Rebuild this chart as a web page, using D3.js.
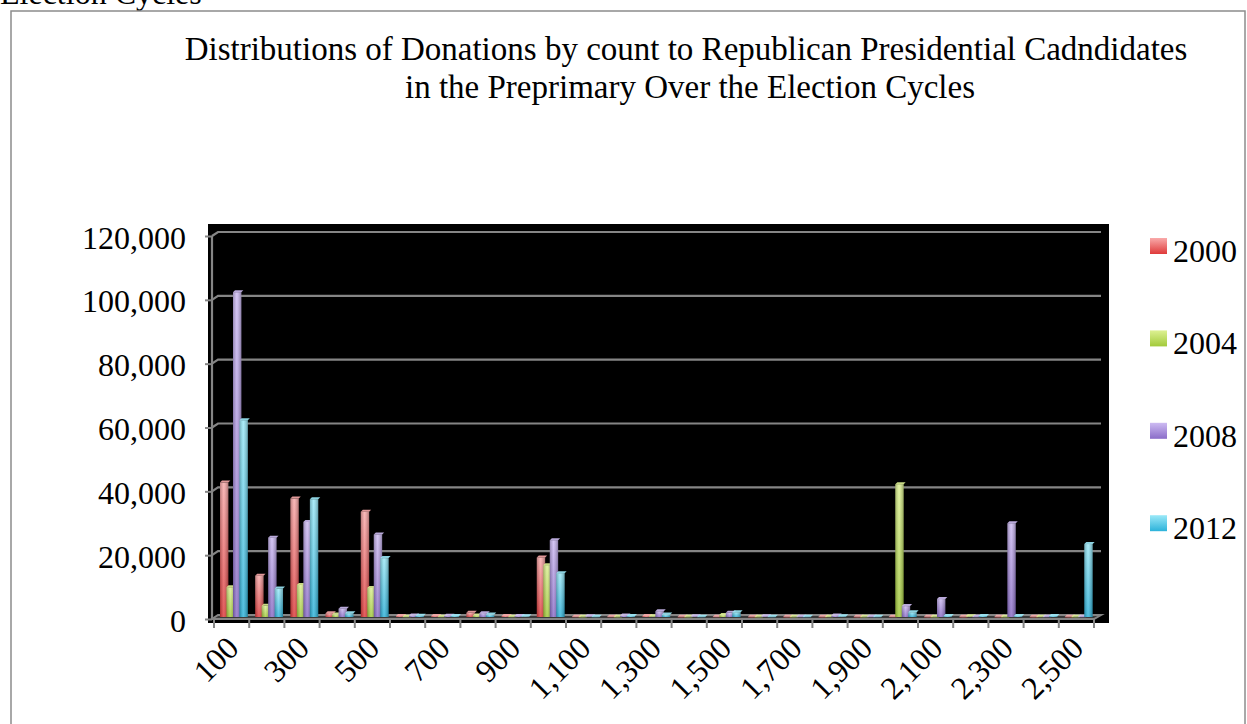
<!DOCTYPE html>
<html>
<head>
<meta charset="utf-8">
<script src="https://cdn.jsdelivr.net/npm/d3@7"></script>
<style>
  html, body { margin: 0; padding: 0; background: #fff; overflow: hidden; }
  svg { display: block; }
  text { font-family: "Liberation Serif", "Times New Roman", serif; fill: #000; }
</style>
</head>
<body>
<svg id="chart" width="1247" height="724"></svg>
<script>
// Donation amount buckets (dollars)
const categories = [100, 200, 300, 400, 500, 600, 700, 800, 900, 1000, 1100, 1200, 1300,
                    1400, 1500, 1600, 1700, 1800, 1900, 2000, 2100, 2200, 2300, 2400, 2500];
const seriesNames = ["2000", "2004", "2008", "2012"];

// Number of donations per bucket, one array per election cycle
const values2000 = [42000, 12900, 37000, 1200, 32900, 300, 300, 1300, 300, 18600, 100, 100, 300,
                    50, 100, 50, 50, 50, 50, 100, 50, 50, 50, 50, 50];
const values2004 = [9300, 3500, 10000, 800, 9100, 100, 100, 500, 100, 16200, 50, 50, 200,
                    50, 600, 50, 50, 100, 50, 41500, 50, 200, 50, 100, 50];
const values2008 = [101500, 24800, 29700, 2600, 25800, 500, 400, 1200, 300, 24000, 200, 500, 1800,
                    200, 1300, 200, 100, 500, 100, 3400, 5600, 100, 29300, 100, 100];
const values2012 = [61500, 8900, 36800, 1200, 18400, 400, 300, 800, 200, 13700, 100, 300, 800,
                    100, 1500, 100, 100, 200, 100, 1500, 300, 300, 300, 300, 22800];

const yTicks = [0, 20000, 40000, 60000, 80000, 100000, 120000];
const xTickLabels = [100, 300, 500, 700, 900, 1100, 1300, 1500, 1700, 1900, 2100, 2300, 2500];

const seriesValues = [values2000, values2004, values2008, values2012];
const palette = {
  "2000": ["#f9aaaa", "#df3a3a"],
  "2004": ["#ddf192", "#a2ca3a"],
  "2008": ["#cdbbf2", "#8a6cc8"],
  "2012": ["#9be9f8", "#2cb2da"]
};

const svg = d3.select("#chart");
const defs = svg.append("defs");

seriesNames.forEach(s => {
  const g = defs.append("linearGradient").attr("id", "grad" + s)
    .attr("x1", 0).attr("y1", 0).attr("x2", 0).attr("y2", 1);
  g.append("stop").attr("offset", "0%").attr("stop-color", palette[s][0]);
  g.append("stop").attr("offset", "100%").attr("stop-color", palette[s][1]);
});
const sheen = defs.append("linearGradient").attr("id", "sheen")
  .attr("x1", 0).attr("y1", 0).attr("x2", 1).attr("y2", 0);
sheen.append("stop").attr("offset", "0%").attr("stop-color", "#000").attr("stop-opacity", 0.25);
sheen.append("stop").attr("offset", "45%").attr("stop-color", "#fff").attr("stop-opacity", 0.18);
sheen.append("stop").attr("offset", "100%").attr("stop-color", "#000").attr("stop-opacity", 0.3);

// Partly visible heading above the frame
svg.append("text").attr("x", 0).attr("y", 4).attr("font-size", 32).text("Election Cycles");

// Chart frame
svg.append("rect").attr("x", 11).attr("y", 11).attr("width", 1234).attr("height", 730)
  .attr("fill", "#fff").attr("stroke", "#8c8c8c").attr("stroke-width", 1.5);

// Title
const title = svg.append("text").attr("text-anchor", "middle").attr("font-size", 33);
title.append("tspan").attr("x", 686).attr("y", 60)
  .text("Distributions of Donations by count to Republican Presidential Cadndidates");
title.append("tspan").attr("x", 690).attr("y", 98)
  .text("in the Preprimary Over the Election Cycles");

// Plot background
svg.append("rect").attr("x", 208).attr("y", 224).attr("width", 901).attr("height", 399).attr("fill", "#000");

// Scales: front plane (axis) and back wall (gridlines); bars sit between
const yFront = d3.scaleLinear().domain([0, 120000]).range([619, 236]);
const yBack = d3.scaleLinear().domain([0, 120000]).range([615, 232]);
const yBar = d3.scaleLinear().domain([0, 120000]).range([617, 233]);
const x = d3.scaleBand().domain(categories).range([213, 1093]).padding(0);
const xs = d3.scaleBand().domain(seriesNames).range([7, 33]).padding(0);
const barW = xs.bandwidth() * 1.28;
const depth = 6;

const gridColor = "#858585";

// Gridlines on the back wall with slanted connectors to the axis
svg.append("g").selectAll("path").data(yTicks.filter(v => v > 0)).join("path")
  .attr("d", v => `M212,${yFront(v)}L${212 + depth},${yBack(v)}L1101,${yBack(v)}`)
  .attr("fill", "none").attr("stroke", gridColor).attr("stroke-width", 2.2);

// Floor
svg.append("path")
  .attr("d", `M212,${yFront(0)}L1094,${yFront(0)}L1101,${yBack(0)}L${212 + depth},${yBack(0)}Z`)
  .attr("fill", "#3a3a3a").attr("stroke", gridColor).attr("stroke-width", 2);

// Bars
const barsG = svg.append("g");
seriesNames.forEach((s, si) => {
  const data = categories.map((c, i) => ({ c, v: seriesValues[si][i] }));
  const g = barsG.append("g");
  const bx = d => x(d.c) + xs(s);
  g.selectAll("rect.body").data(data).join("rect").attr("class", "body")
    .attr("x", bx).attr("y", d => yBar(d.v)).attr("width", barW)
    .attr("height", d => Math.max(0.5, yBar(0) - yBar(d.v)))
    .attr("fill", `url(#grad${s})`);
  g.selectAll("rect.sheen").data(data).join("rect").attr("class", "sheen")
    .attr("x", bx).attr("y", d => yBar(d.v)).attr("width", barW)
    .attr("height", d => Math.max(0.5, yBar(0) - yBar(d.v)))
    .attr("fill", "url(#sheen)");
  g.selectAll("path.cap").data(data).join("path").attr("class", "cap")
    .attr("d", d => {
      const x0 = bx(d), y0 = yBar(d.v);
      return `M${x0},${y0}L${x0 + barW},${y0}L${x0 + barW + 2},${y0 - 2}L${x0 + 2},${y0 - 2}Z`;
    })
    .attr("fill", palette[s][0]).attr("opacity", 0.9);
});

// Y axis on the front plane
const yAxis = d3.axisLeft(yFront).tickValues(yTicks).tickSize(7).tickFormat(d3.format(","));
const yAxisG = svg.append("g").attr("transform", "translate(212,0)").call(yAxis);
yAxisG.select(".domain").attr("stroke", gridColor).attr("stroke-width", 2.2)
  .attr("d", `M0,${yFront(0)}V${yFront(120000)}`);
yAxisG.selectAll(".tick line").attr("stroke", gridColor).attr("stroke-width", 2);
yAxisG.selectAll(".tick text").attr("font-size", 32).attr("x", -26).attr("dy", 12)
  .attr("font-family", "Liberation Serif, Times New Roman, serif").attr("fill", "#000");

// X axis ticks at bucket boundaries and rotated labels
const edges = categories.map(c => x(c)).concat([x(categories[categories.length - 1]) + x.bandwidth()]);
svg.append("g").selectAll("line").data(edges).join("line")
  .attr("x1", d => d + 1).attr("x2", d => d + 1)
  .attr("y1", yFront(0)).attr("y2", yFront(0) + 9)
  .attr("stroke", gridColor).attr("stroke-width", 2);

svg.append("g").selectAll("text").data(xTickLabels).join("text")
  .attr("font-size", 32).attr("text-anchor", "end")
  .attr("transform", d => `translate(${x(d) + x.bandwidth() / 2 + 10},${650}) rotate(-45)`)
  .text(d => d3.format(",")(d));

// Legend
const legend = svg.append("g").selectAll("g").data(seriesNames).join("g")
  .attr("transform", (d, i) => `translate(1150,${262 + i * 92.4})`);
legend.append("rect").attr("x", 0).attr("y", -24).attr("width", 17).attr("height", 16)
  .attr("fill", d => `url(#grad${d})`);
legend.append("text").attr("x", 23).attr("y", 0).attr("font-size", 32).text(d => d);
</script>
</body>
</html>
